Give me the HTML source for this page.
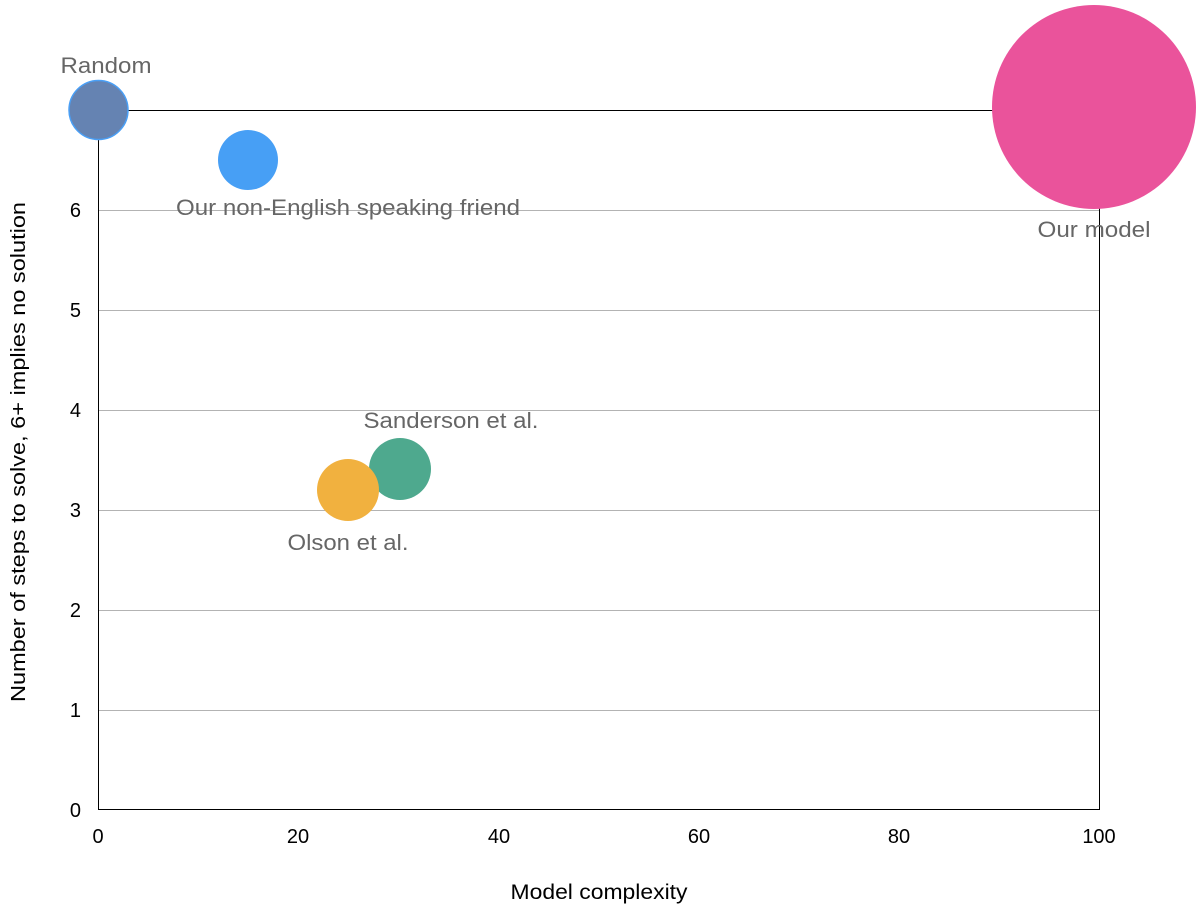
<!DOCTYPE html>
<html><head><meta charset="utf-8"><style>
html,body{margin:0;padding:0;background:#fff;}
svg{display:block;font-family:"Liberation Sans",Arial,sans-serif;}
</style></head><body>
<svg width="1202" height="909" viewBox="0 0 1202 909" xmlns="http://www.w3.org/2000/svg">
<g stroke="#b3b3b3" stroke-width="1">
<line x1="98.5" y1="210.5" x2="1099" y2="210.5"/>
<line x1="98.5" y1="310.5" x2="1099" y2="310.5"/>
<line x1="98.5" y1="410.5" x2="1099" y2="410.5"/>
<line x1="98.5" y1="510.5" x2="1099" y2="510.5"/>
<line x1="98.5" y1="610.5" x2="1099" y2="610.5"/>
<line x1="98.5" y1="710.5" x2="1099" y2="710.5"/>
</g>
<rect x="98.5" y="110.5" width="1001" height="699" fill="none" stroke="#000" stroke-width="1"/>
<g font-size="20" fill="#000" text-anchor="end">
<text x="81" y="817">0</text>
<text x="81" y="717">1</text>
<text x="81" y="617">2</text>
<text x="81" y="517">3</text>
<text x="81" y="417">4</text>
<text x="81" y="317">5</text>
<text x="81" y="217">6</text>
</g>
<g font-size="20" fill="#000" text-anchor="middle">
<text x="98" y="843">0</text>
<text x="298" y="843">20</text>
<text x="499" y="843">40</text>
<text x="699" y="843">60</text>
<text x="899" y="843">80</text>
<text x="1099" y="843">100</text>
<text x="599" y="899" font-size="21" textLength="177" lengthAdjust="spacingAndGlyphs">Model complexity</text>
<text transform="translate(25,452) rotate(-90)" textLength="500" lengthAdjust="spacingAndGlyphs">Number of steps to solve, 6+ implies no solution</text>
</g>
<circle cx="98.5" cy="110" r="29.5" fill="#6583b2" stroke="#4a9ff5" stroke-width="1.5"/>
<circle cx="248" cy="160" r="30" fill="#479ff5"/>
<circle cx="400" cy="469" r="31" fill="#4ea98e"/>
<circle cx="348" cy="490" r="31" fill="#f1b13f"/>
<circle cx="1094" cy="107" r="102" fill="#ea539b"/>
<g font-size="22" fill="#666" text-anchor="middle" lengthAdjust="spacingAndGlyphs">
<text x="106" y="73" textLength="91" lengthAdjust="spacingAndGlyphs">Random</text>
<text x="348" y="215" textLength="344" lengthAdjust="spacingAndGlyphs">Our non-English speaking friend</text>
<text x="1094" y="237" textLength="113" lengthAdjust="spacingAndGlyphs">Our model</text>
<text x="451" y="428" textLength="175" lengthAdjust="spacingAndGlyphs">Sanderson et al.</text>
<text x="348" y="550" textLength="121" lengthAdjust="spacingAndGlyphs">Olson et al.</text>
</g>
</svg>
</body></html>
